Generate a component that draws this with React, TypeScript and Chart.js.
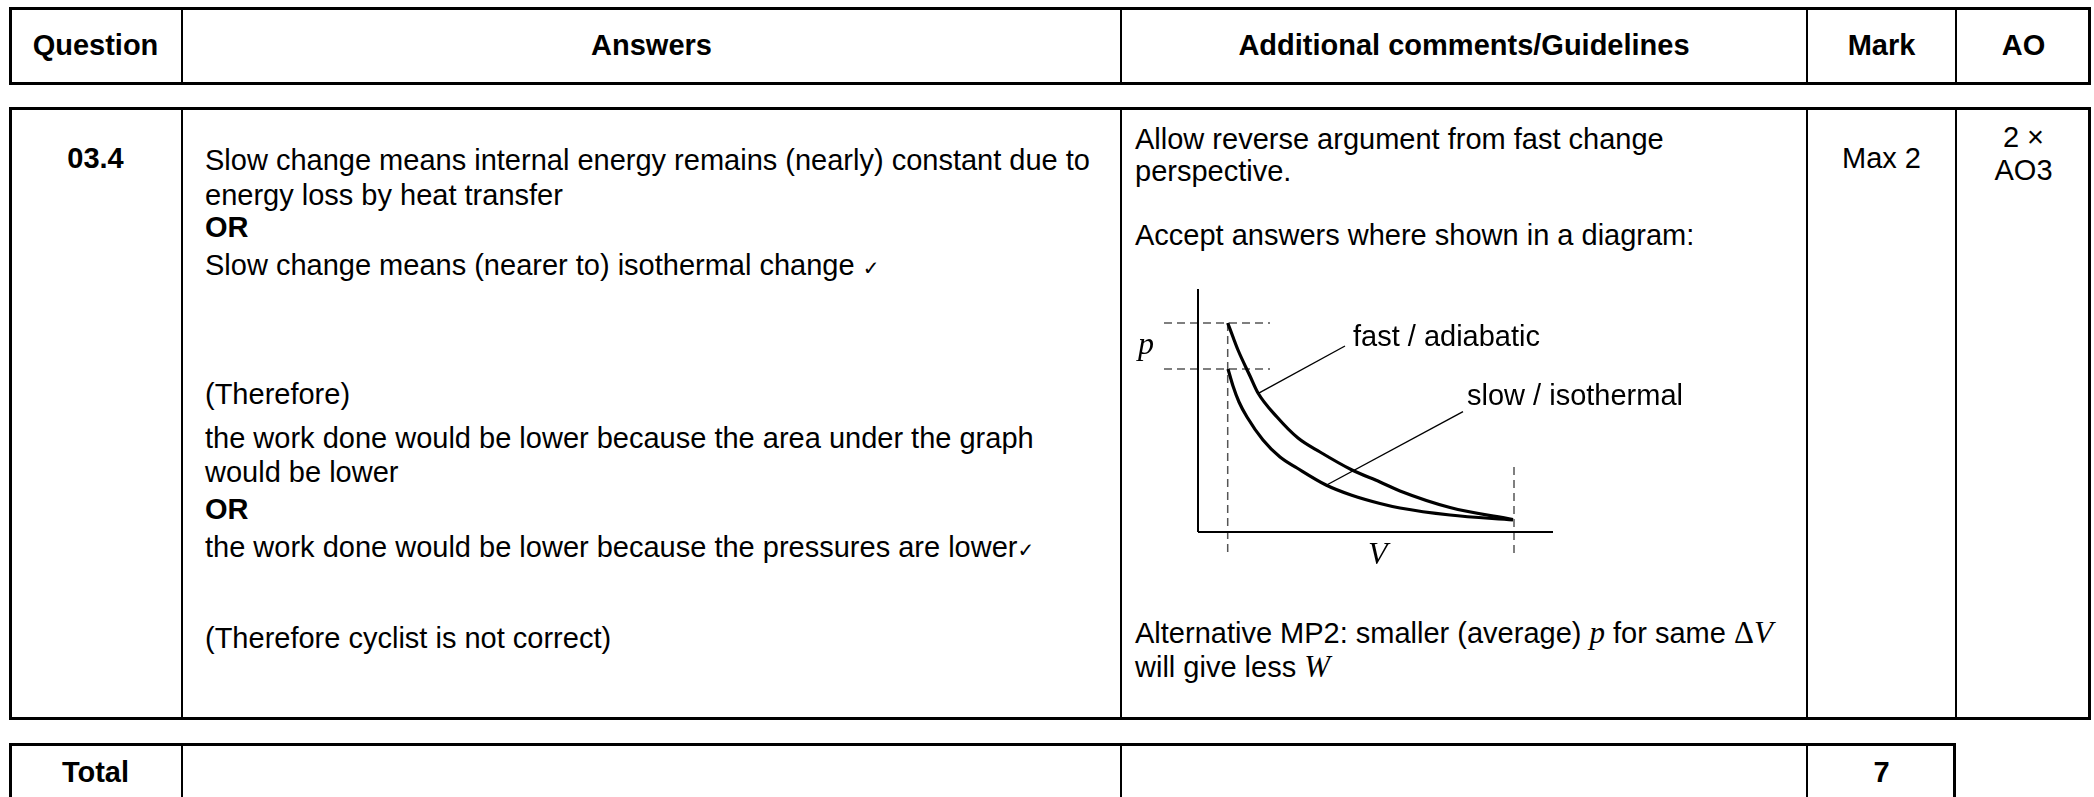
import React, { useEffect, useRef } from "react";
import { Chart, registerables } from "chart.js";

Chart.register(...registerables);

// ---- diagram data (V, p in arbitrary sketch units) ----
const adiabaticV = [2.97, 3.5, 4.0, 5.2, 6.0, 7.9, 10.0, 12.2, 15.4, 18.2, 20.2, 25.2, 31.5];
const adiabaticP = [20.9, 19.5, 18.2, 15.6, 13.9, 11.5, 9.4, 8.0, 6.2, 5.0, 4.1, 2.45, 1.25];
const isothermalV = [3.0, 3.5, 4.1, 4.9, 6.5, 8.2, 9.9, 12.8, 15.3, 18.2, 20.2, 25.2, 31.5];
const isothermalP = [16.3, 14.6, 13.0, 11.5, 9.2, 7.5, 6.4, 4.7, 3.7, 2.85, 2.4, 1.7, 1.2];
const axisYLine = [{ x: 0, y: 0 }, { x: 0, y: 24.3 }];
const axisXLine = [{ x: 0, y: 0 }, { x: 35.5, y: 0 }];
const guideLeftV = [{ x: 2.97, y: 20.9 }, { x: 2.97, y: -2.3 }];
const guideRightV = [{ x: 31.6, y: 6.5 }, { x: 31.6, y: -2.3 }];
const guideTopP = [{ x: -3.4, y: 20.9 }, { x: 7.2, y: 20.9 }];
const guideLowP = [{ x: -3.4, y: 16.3 }, { x: 7.2, y: 16.3 }];
const leaderFast = [{ x: 14.7, y: 18.6 }, { x: 6.03, y: 13.87 }];
const leaderSlow = [{ x: 26.5, y: 12.03 }, { x: 12.87, y: 4.7 }];

// ---- table text ----
const headers = ["Question", "Answers", "Additional comments/Guidelines", "Mark", "AO"];
const answerLines = [
  "Slow change means internal energy remains (nearly) constant due to",
  "energy loss by heat transfer",
  "OR",
  "Slow change means (nearer to) isothermal change \u2713",
  "(Therefore)",
  "the work done would be lower because the area under the graph",
  "would be lower",
  "OR",
  "the work done would be lower because the pressures are lower\u2713",
  "(Therefore cyclist is not correct)",
];
const answerTops = [143, 178, 210, 248, 377, 421, 455, 492, 530, 621];

const SANS = '"Liberation Sans", Arial, sans-serif';
const SERIF = '"Liberation Serif", "Times New Roman", serif';
const COLS = [9, 182, 1121, 1807, 1956, 2091];

const pts = (xs: number[], ys: number[]) => xs.map((x, i) => ({ x, y: ys[i] }));

function Diagram() {
  const ref = useRef<HTMLCanvasElement | null>(null);
  useEffect(() => {
    if (!ref.current) return;
    const solid = (data: any, w: number) => ({
      data, borderColor: "#000", borderWidth: w, showLine: true, pointRadius: 0, clip: false,
    });
    const dashed = (data: any) => ({
      data, borderColor: "#555", borderWidth: 1.5, borderDash: [8, 5], showLine: true, pointRadius: 0, clip: false,
    });
    const chart = new Chart(ref.current, {
      type: "scatter",
      data: {
        datasets: [
          { ...solid(pts(adiabaticV, adiabaticP), 3.2), cubicInterpolationMode: "monotone" },
          { ...solid(pts(isothermalV, isothermalP), 3.2), cubicInterpolationMode: "monotone" },
          solid(axisYLine, 2),
          solid(axisXLine, 2),
          dashed(guideLeftV),
          dashed(guideRightV),
          dashed(guideTopP),
          dashed(guideLowP),
          solid(leaderFast, 1.4),
          solid(leaderSlow, 1.4),
        ] as any,
      },
      options: {
        animation: false,
        responsive: false,
        maintainAspectRatio: false,
        layout: { padding: 0 },
        plugins: { legend: { display: false }, tooltip: { enabled: false } },
        scales: {
          x: { type: "linear", display: false, min: -6.8, max: 40.2 },
          y: { type: "linear", display: false, min: -3.8, max: 26.2 },
        },
      },
    });
    return () => chart.destroy();
  }, []);
  return (
    <canvas
      ref={ref}
      width={470}
      height={300}
      style={{ position: "absolute", left: 1130, top: 270, width: 470, height: 300 }}
    />
  );
}

const txt = (extra: React.CSSProperties = {}): React.CSSProperties => ({
  position: "absolute",
  whiteSpace: "nowrap",
  font: `29px ${SANS}`,
  lineHeight: "34px",
  color: "#000",
  ...extra,
});

function Box({ top, bottom, cols }: { top: number; bottom: number; cols: number[] }) {
  const left = cols[0];
  const right = cols[cols.length - 1];
  return (
    <>
      <div
        style={{
          position: "absolute", left, top, width: right - left, height: bottom - top,
          border: "3px solid #000", boxSizing: "border-box",
        }}
      />
      {cols.slice(1, -1).map((c, i) => (
        <div key={i} style={{ position: "absolute", left: c - 1, top, width: 2, height: bottom - top, background: "#000" }} />
      ))}
    </>
  );
}

const centered = (col: number, top: number, bold: boolean, content: React.ReactNode, key?: any) => (
  <div
    key={key}
    style={txt({
      left: COLS[col], width: COLS[col + 1] - COLS[col], top, textAlign: "center",
      fontWeight: bold ? "bold" : "normal",
    })}
  >
    {content}
  </div>
);

export default function App() {
  return (
    <div style={{ position: "absolute", left: 0, top: 0, width: 2094, height: 797, overflow: "hidden", background: "#fff" }}>
      {/* header */}
      <Box top={7} bottom={85} cols={COLS} />
      {headers.map((h, i) => centered(i, 28, true, h, "h" + i))}

      {/* body */}
      <Box top={107} bottom={720} cols={COLS} />
      {centered(0, 141, true, "03.4")}
      {answerLines.map((l, i) => (
        <div key={"a" + i} style={txt({ left: 205, top: answerTops[i], fontWeight: l === "OR" ? "bold" : "normal" })}>
          {l.endsWith("\u2713") ? (
            <>
              {l.slice(0, -1)}
              <span style={{ fontFamily: '"DejaVu Sans", sans-serif', fontSize: 20 }}>{"\u2713"}</span>
            </>
          ) : (
            l
          )}
        </div>
      ))}
      <div style={txt({ left: 1135, top: 122 })}>Allow reverse argument from fast change</div>
      <div style={txt({ left: 1135, top: 154 })}>perspective.</div>
      <div style={txt({ left: 1135, top: 218 })}>Accept answers where shown in a diagram:</div>
      <div style={txt({ left: 1135, top: 616 })}>
        Alternative MP2: smaller (average) <span style={{ fontFamily: SERIF, fontStyle: "italic", fontSize: 31 }}>p</span> for same{" "}
        <span style={{ fontFamily: SERIF, fontSize: 31 }}>&Delta;</span>
        <span style={{ fontFamily: SERIF, fontStyle: "italic", fontSize: 31 }}>V</span>
      </div>
      <div style={txt({ left: 1135, top: 650 })}>
        will give less <span style={{ fontFamily: SERIF, fontStyle: "italic", fontSize: 31 }}>W</span>
      </div>
      {centered(3, 141, false, "Max 2")}
      {centered(4, 120, false, "2 \u00d7")}
      {centered(4, 153, false, "AO3")}

      {/* diagram */}
      <Diagram />
      <div style={txt({ left: 1353, top: 322, lineHeight: "29px" })}>fast / adiabatic</div>
      <div style={txt({ left: 1467, top: 381, lineHeight: "29px" })}>slow / isothermal</div>
      <div style={txt({ left: 1138, top: 327, font: `italic 32px ${SERIF}`, lineHeight: "32px" })}>p</div>
      <div style={txt({ left: 1368, top: 537, font: `italic 32px ${SERIF}`, lineHeight: "32px" })}>V</div>

      {/* total */}
      <Box top={743} bottom={830} cols={COLS.slice(0, 5)} />
      {centered(0, 755, true, "Total")}
      {centered(3, 755, true, "7")}
    </div>
  );
}
